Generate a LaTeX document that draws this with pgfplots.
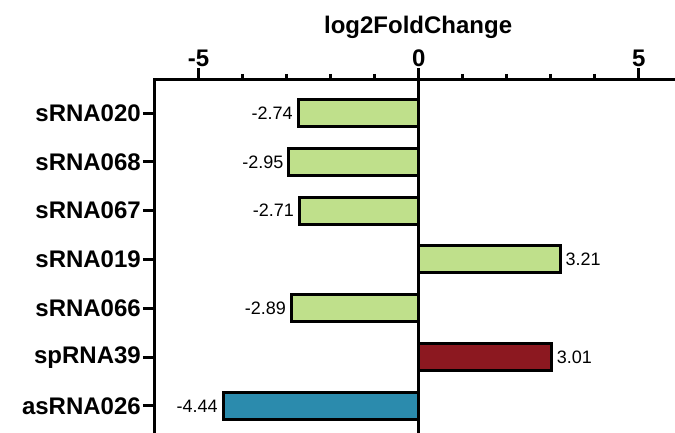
\documentclass[border=0pt]{standalone}
\usepackage{pgfplots}
\pgfplotsset{compat=1.18}
\usepackage{fontspec}
\setmainfont{Liberation Sans}
\definecolor{bgreen}{RGB}{191,224,139}
\definecolor{bred}{RGB}{140,24,32}
\definecolor{bblue}{RGB}{43,139,173}
\begin{document}
\begin{tikzpicture}
\useasboundingbox (-155pt,0pt) rectangle (520pt,433pt);
\begin{axis}[
  scale only axis,
  width=520pt, height=353pt,
  xmin=-5.99, xmax=5.82,
  ymin=-0.553, ymax=6.676,
  axis x line=top, axis y line=left,
  axis line style={-, line width=3pt, black, line cap=rect},
  tick align=outside,
  tick style={line width=3pt, black},
  major tick length=12pt,
  minor tick length=6pt,
  xtick={-5,0,5},
  minor x tick num=4,
  ytick={0,1,2,3,4,5,6},
  yticklabels={asRNA026,spRNA39,sRNA066,sRNA019,sRNA067,sRNA068,sRNA020},
  /pgf/number format/assume math mode=true,
  ticklabel style={font=\fontsize{24}{28}\selectfont\bfseries},
  xticklabel style={inner sep=1pt},
  yticklabel style={inner sep=2pt},
  xlabel={log2FoldChange},
  xlabel style={font=\fontsize{24}{28}\selectfont\bfseries, at={(axis description cs:0.506,1)}, anchor=base, yshift=46pt},
  extra x ticks={0},
  extra x tick labels={},
  extra x tick style={grid=major, major grid style={black, line width=3pt}, major tick length=0pt},
  xbar,
  bar width=27pt,
  point meta=x,
  nodes near coords={\pgfmathprintnumber[fixed,fixed zerofill,precision=2,assume math mode=true]{\pgfplotspointmeta}},
  every node near coord/.append style={font=\fontsize{18}{21}\selectfont, inner sep=4pt, black},
]
\addplot[bar shift=0pt, fill=bgreen, draw=black, line width=3pt] coordinates {(-2.74,6) (-2.95,5) (-2.71,4) (3.21,3) (-2.89,2)};
\addplot[bar shift=0pt, fill=bred, draw=black, line width=3pt] coordinates {(3.01,1)};
\addplot[bar shift=0pt, fill=bblue, draw=black, line width=3pt] coordinates {(-4.44,0)};
\end{axis}
\end{tikzpicture}
\end{document}
